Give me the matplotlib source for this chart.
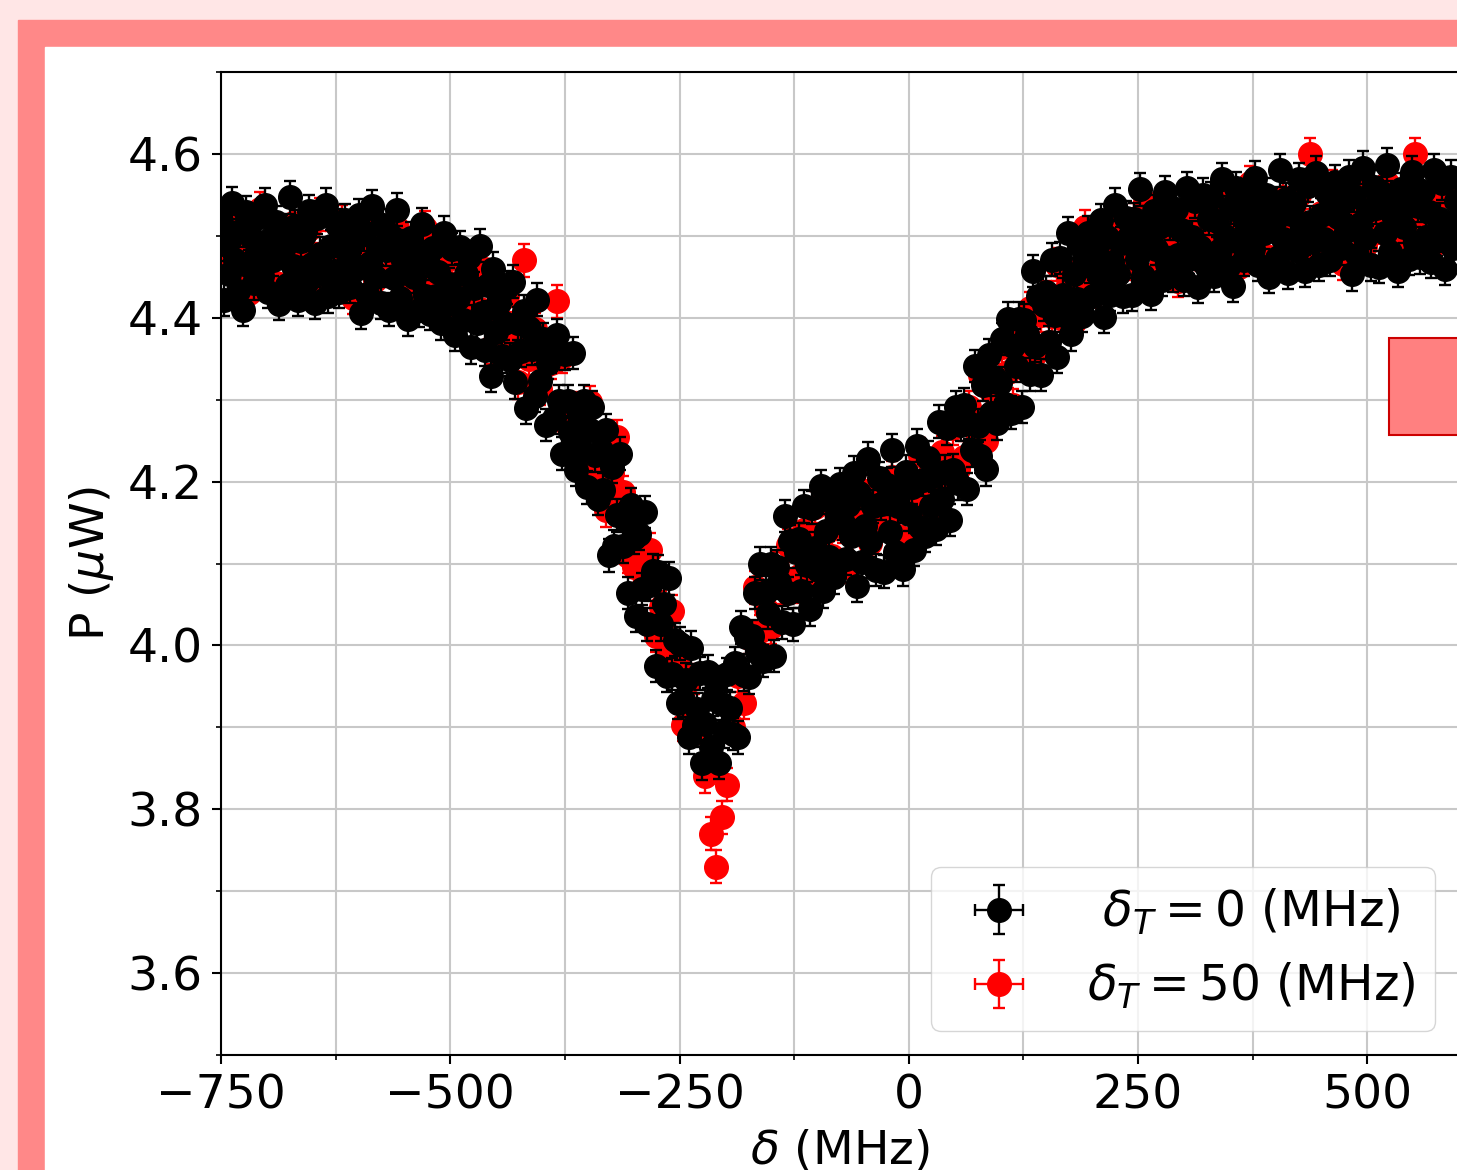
import numpy as np
import matplotlib.pyplot as plt
from matplotlib.patches import Rectangle
from matplotlib.ticker import MultipleLocator

# detuning sweep (MHz) and measured power (uW), delta_T = 0
delta_0 = np.arange(-750, 601, 3)
power_0 = [
    4.517, 4.422, 4.489, 4.454, 4.540, 4.471, 4.433, 4.506, 4.410, 4.529, 4.463, 4.498, 4.442, 4.480, 4.523,
    4.451, 4.538, 4.432, 4.497, 4.471, 4.517, 4.417, 4.505, 4.486, 4.440, 4.547, 4.463, 4.512, 4.422, 4.494,
    4.501, 4.443, 4.530, 4.466, 4.418, 4.522, 4.478, 4.453, 4.538, 4.426, 4.487, 4.457, 4.513, 4.432, 4.495,
    4.519, 4.476, 4.438, 4.494, 4.459, 4.525, 4.406, 4.502, 4.429, 4.467, 4.536, 4.450, 4.485, 4.418, 4.513,
    4.483, 4.410, 4.499, 4.449, 4.532, 4.424, 4.469, 4.487, 4.398, 4.497, 4.450, 4.475, 4.409, 4.514, 4.426,
    4.470, 4.405, 4.485, 4.427, 4.456, 4.393, 4.504, 4.417, 4.441, 4.484, 4.379, 4.424, 4.486, 4.397, 4.453,
    4.474, 4.364, 4.436, 4.393, 4.488, 4.406, 4.361, 4.440, 4.329, 4.460, 4.382, 4.418, 4.353, 4.393, 4.437,
    4.349, 4.444, 4.321, 4.393, 4.360, 4.408, 4.290, 4.387, 4.362, 4.305, 4.422, 4.323, 4.374, 4.269, 4.345,
    4.353, 4.278, 4.379, 4.298, 4.234, 4.356, 4.298, 4.260, 4.357, 4.214, 4.281, 4.238, 4.298, 4.193, 4.263,
    4.291, 4.232, 4.179, 4.239, 4.190, 4.263, 4.110, 4.218, 4.121, 4.159, 4.234, 4.121, 4.154, 4.064, 4.172,
    4.131, 4.036, 4.136, 4.069, 4.163, 4.026, 4.074, 4.091, 3.975, 4.090, 4.026, 4.051, 3.963, 4.082, 3.965,
    4.007, 3.930, 4.002, 3.933, 3.958, 3.888, 3.997, 3.903, 3.922, 3.966, 3.856, 3.904, 3.968, 3.876, 3.934,
    3.955, 3.857, 3.929, 3.895, 3.965, 3.923, 3.892, 3.978, 3.888, 4.022, 3.964, 4.010, 3.961, 4.011, 4.064,
    3.992, 4.100, 3.981, 4.065, 4.040, 4.100, 3.987, 4.096, 4.077, 4.028, 4.158, 4.064, 4.127, 4.026, 4.114,
    4.130, 4.066, 4.170, 4.098, 4.044, 4.168, 4.119, 4.092, 4.194, 4.066, 4.140, 4.108, 4.175, 4.083, 4.159,
    4.197, 4.149, 4.106, 4.172, 4.133, 4.211, 4.073, 4.186, 4.102, 4.146, 4.228, 4.128, 4.170, 4.092, 4.204,
    4.173, 4.090, 4.196, 4.139, 4.238, 4.114, 4.170, 4.195, 4.093, 4.212, 4.160, 4.193, 4.117, 4.244, 4.144,
    4.202, 4.134, 4.229, 4.170, 4.207, 4.142, 4.273, 4.179, 4.212, 4.265, 4.153, 4.214, 4.291, 4.198, 4.269,
    4.294, 4.191, 4.272, 4.238, 4.341, 4.268, 4.231, 4.318, 4.215, 4.354, 4.284, 4.328, 4.271, 4.320, 4.374,
    4.295, 4.399, 4.284, 4.365, 4.341, 4.399, 4.291, 4.397, 4.380, 4.331, 4.457, 4.366, 4.427, 4.330, 4.416,
    4.431, 4.370, 4.471, 4.403, 4.352, 4.473, 4.428, 4.402, 4.503, 4.380, 4.453, 4.423, 4.489, 4.402, 4.476,
    4.504, 4.463, 4.426, 4.484, 4.451, 4.519, 4.401, 4.499, 4.428, 4.468, 4.538, 4.454, 4.491, 4.426, 4.522,
    4.498, 4.428, 4.520, 4.472, 4.557, 4.451, 4.497, 4.517, 4.429, 4.530, 4.484, 4.511, 4.446, 4.553, 4.466,
    4.515, 4.452, 4.533, 4.477, 4.507, 4.446, 4.558, 4.473, 4.498, 4.542, 4.438, 4.486, 4.550, 4.463, 4.521,
    4.546, 4.451, 4.518, 4.483, 4.569, 4.500, 4.462, 4.535, 4.439, 4.558, 4.492, 4.527, 4.471, 4.509, 4.552,
    4.484, 4.571, 4.465, 4.530, 4.504, 4.550, 4.450, 4.538, 4.519, 4.473, 4.580, 4.496, 4.545, 4.455, 4.527,
    4.540, 4.482, 4.569, 4.505, 4.457, 4.561, 4.517, 4.492, 4.577, 4.465, 4.526, 4.496, 4.552, 4.471, 4.534,
    4.566, 4.523, 4.485, 4.541, 4.506, 4.572, 4.453, 4.549, 4.476, 4.514, 4.583, 4.497, 4.532, 4.465, 4.560,
    4.534, 4.462, 4.552, 4.503, 4.587, 4.480, 4.526, 4.545, 4.457, 4.557, 4.511, 4.537, 4.472, 4.578, 4.491,
    4.537, 4.474, 4.555, 4.499, 4.529, 4.468, 4.580, 4.495, 4.520, 4.564, 4.460, 4.508, 4.572, 4.485, 4.543,
    4.520,
]

# delta_T = 50 MHz
delta_50 = np.arange(-750, 601, 6)
power_50 = [
    4.498, 4.468, 4.523, 4.448, 4.483, 4.430, 4.490, 4.533, 4.463, 4.478, 4.443, 4.506, 4.473, 4.516, 4.456,
    4.458, 4.508, 4.471, 4.526, 4.436, 4.486, 4.451, 4.518, 4.476, 4.424, 4.491, 4.468, 4.511, 4.446, 4.484,
    4.489, 4.457, 4.510, 4.433, 4.466, 4.411, 4.469, 4.510, 4.436, 4.448, 4.410, 4.470, 4.435, 4.474, 4.410,
    4.410, 4.455, 4.411, 4.460, 4.364, 4.408, 4.367, 4.427, 4.379, 4.321, 4.470, 4.350, 4.386, 4.313, 4.342,
    4.345, 4.420, 4.352, 4.268, 4.289, 4.222, 4.268, 4.297, 4.213, 4.214, 4.165, 4.211, 4.255, 4.187, 4.109,
    4.096, 4.129, 4.077, 4.117, 4.012, 4.047, 3.997, 4.042, 3.978, 3.903, 3.957, 3.921, 3.900, 3.840, 3.770,
    3.730, 3.790, 3.830, 3.900, 3.963, 3.930, 4.009, 4.071, 4.017, 4.045, 4.022, 4.094, 4.070, 4.122, 4.072,
    4.085, 4.141, 4.109, 4.169, 4.084, 4.139, 4.109, 4.181, 4.145, 4.096, 4.165, 4.144, 4.188, 4.125, 4.165,
    4.177, 4.148, 4.205, 4.133, 4.172, 4.123, 4.186, 4.233, 4.171, 4.193, 4.166, 4.236, 4.211, 4.265, 4.215,
    4.230, 4.291, 4.264, 4.330, 4.250, 4.310, 4.285, 4.364, 4.334, 4.293, 4.372, 4.360, 4.412, 4.356, 4.403,
    4.425, 4.402, 4.465, 4.398, 4.440, 4.395, 4.462, 4.511, 4.445, 4.463, 4.432, 4.498, 4.469, 4.515, 4.459,
    4.466, 4.520, 4.485, 4.541, 4.452, 4.503, 4.469, 4.537, 4.496, 4.445, 4.512, 4.490, 4.534, 4.470, 4.509,
    4.530, 4.500, 4.555, 4.480, 4.515, 4.462, 4.522, 4.565, 4.495, 4.510, 4.475, 4.538, 4.505, 4.548, 4.488,
    4.500, 4.550, 4.513, 4.600, 4.478, 4.528, 4.493, 4.560, 4.518, 4.466, 4.533, 4.510, 4.553, 4.488, 4.526,
    4.540, 4.510, 4.565, 4.490, 4.525, 4.472, 4.532, 4.600, 4.505, 4.520, 4.485, 4.548, 4.515, 4.558, 4.498,
    4.510,
]

power_err = 0.02   # uW
delta_err = 4.0    # MHz
labels = [r'$\,\,\delta_T = 0$ (MHz)', r'$\delta_T = 50$ (MHz)']

W, H = 1457, 1170
fig = plt.figure(figsize=(W / 100, H / 100), dpi=100, facecolor='#ffe6e6')
fig.add_artist(Rectangle((18 / W, -0.1), 1.2, 1.1 - 20 / H, transform=fig.transFigure,
                         color='#ff8888', zorder=-10))
fig.add_artist(Rectangle((45 / W, -0.1), 1.2, 1.1 - 47 / H, transform=fig.transFigure,
                         color='white', zorder=-9))

ax = fig.add_axes([221 / W, 1 - 1055 / H, (1459 - 221) / W, (1055 - 72) / H])

ax.errorbar(delta_0, power_0, yerr=power_err, xerr=delta_err, fmt='o', color='black',
            ms=17, elinewidth=1.7, capsize=4.5, capthick=1.7, zorder=3, label=labels[0])
ax.errorbar(delta_50, power_50, yerr=power_err, xerr=delta_err, fmt='o', color='red',
            ms=17, elinewidth=1.7, capsize=4.5, capthick=1.7, zorder=2, label=labels[1])

ax.set_xlim(-750, 600)
ax.set_ylim(3.5, 4.7)
ax.xaxis.set_major_locator(MultipleLocator(250))
ax.xaxis.set_minor_locator(MultipleLocator(125))
ax.yaxis.set_major_locator(MultipleLocator(0.2))
ax.yaxis.set_minor_locator(MultipleLocator(0.1))
ax.set_axisbelow(True)
ax.grid(True, which='both', color='#c8c8c8', lw=1.5)
ax.tick_params(which='major', length=6.6, width=1.5, labelsize=34, pad=6.6)
ax.tick_params(which='minor', length=3.8, width=1.2)
for s in ax.spines.values():
    s.set_linewidth(1.5)

ax.set_xlabel(r'$\delta$ (MHz)', fontsize=34, labelpad=7.6)
ax.set_ylabel(r'P ($\mu$W)', fontsize=34, labelpad=8)
ax.legend(loc='lower right', fontsize=35, markerscale=1.0, framealpha=0.8)

# highlight box overlay on the right edge
fig.add_artist(Rectangle((1389 / W, 1 - 435 / H), 90 / W, 97 / H, transform=fig.transFigure,
                         facecolor='#ff8080', edgecolor='#cc0000', lw=1.5, zorder=10))

fig.savefig('out.png', dpi=100)
